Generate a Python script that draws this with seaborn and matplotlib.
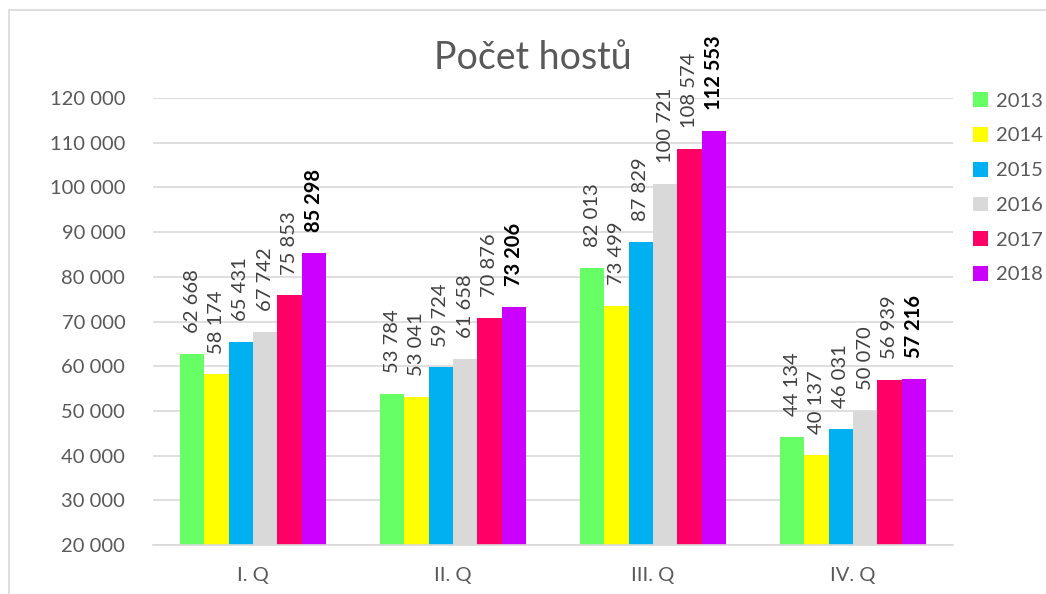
import numpy as np
import pandas as pd
import matplotlib
matplotlib.use("Agg")
import matplotlib.pyplot as plt
import seaborn as sns
from matplotlib.patches import Patch, Rectangle

# data
quarters = ["I. Q", "II. Q", "III. Q", "IV. Q"]
years = ["2013", "2014", "2015", "2016", "2017", "2018"]
v2013 = [62668, 53784, 82013, 44134]
v2014 = [58174, 53041, 73499, 40137]
v2015 = [65431, 59724, 87829, 46031]
v2016 = [67742, 61658, 100721, 50070]
v2017 = [75853, 70876, 108574, 56939]
v2018 = [85298, 73206, 112553, 57216]
colors = ["#66FF66", "#FFFF00", "#00B0F0", "#D9D9D9", "#FF0066", "#CC00FF"]

rows = []
for y, vals in zip(years, [v2013, v2014, v2015, v2016, v2017, v2018]):
    for q, v in zip(quarters, vals):
        rows.append({"kvartal": q, "rok": y, "hoste": v})
df = pd.DataFrame(rows)

sns.set_theme(style="white")
plt.rcParams['font.family'] = ['Lato', 'DejaVu Sans']

def fmt(v):
    return f"{int(v):,}".replace(",", " ")

fig = plt.figure(figsize=(10.46, 5.94), dpi=100)
ax = fig.add_axes([0.1463, 0.0825, 0.7647, 0.7525])

sns.barplot(data=df, x="kvartal", y="hoste", hue="rok", palette=colors,
            saturation=1, width=0.73, ax=ax, legend=False, linewidth=0)

ax.set_ylim(20000, 120000)
ax.set_xlim(-0.5, 3.5)
ax.set_yticks(range(20000, 120001, 10000))
ax.set_yticklabels([fmt(t) for t in range(20000, 120001, 10000)])
ax.yaxis.grid(True, color="#D9D9D9", lw=1.2)
ax.set_axisbelow(True)
for s in ["left", "right", "top"]:
    ax.spines[s].set_visible(False)
ax.spines["bottom"].set_color("#D9D9D9")
ax.spines["bottom"].set_linewidth(1.2)
ax.tick_params(axis="y", length=0, pad=20, labelsize=14.5, labelcolor="#595959")
ax.tick_params(axis="x", length=0, pad=16, labelsize=14.5, labelcolor="#595959")
ax.set_xlabel("")
ax.set_ylabel("")

for i, cont in enumerate(ax.containers):
    last = i == len(ax.containers) - 1
    ax.bar_label(cont, labels=[fmt(b.get_height()) for b in cont],
                 rotation=90, padding=15, fontsize=14.5,
                 color="black" if last else "#404040",
                 fontweight="bold" if last else "normal", clip_on=False)

fig.text(0.509, 0.902, "Počet hostů", ha="center", va="center",
         fontsize=27, color="#595959")

handles = [Patch(facecolor=c, edgecolor="none") for c in colors]
fig.legend(handles, years, loc="upper left", bbox_to_anchor=(0.913, 0.875),
           frameon=False, fontsize=14.5, handlelength=0.75, handleheight=0.75,
           handletextpad=0.4, labelspacing=0.86, labelcolor="#595959")

# chart area frame
fig.patches.append(Rectangle((9 / 1046, -0.1), 1.2, 1 - 10 / 594 + 0.1,
                             transform=fig.transFigure, fill=False,
                             edgecolor="#D9D9D9", lw=1.2))

fig.savefig("out.png", dpi=100)
